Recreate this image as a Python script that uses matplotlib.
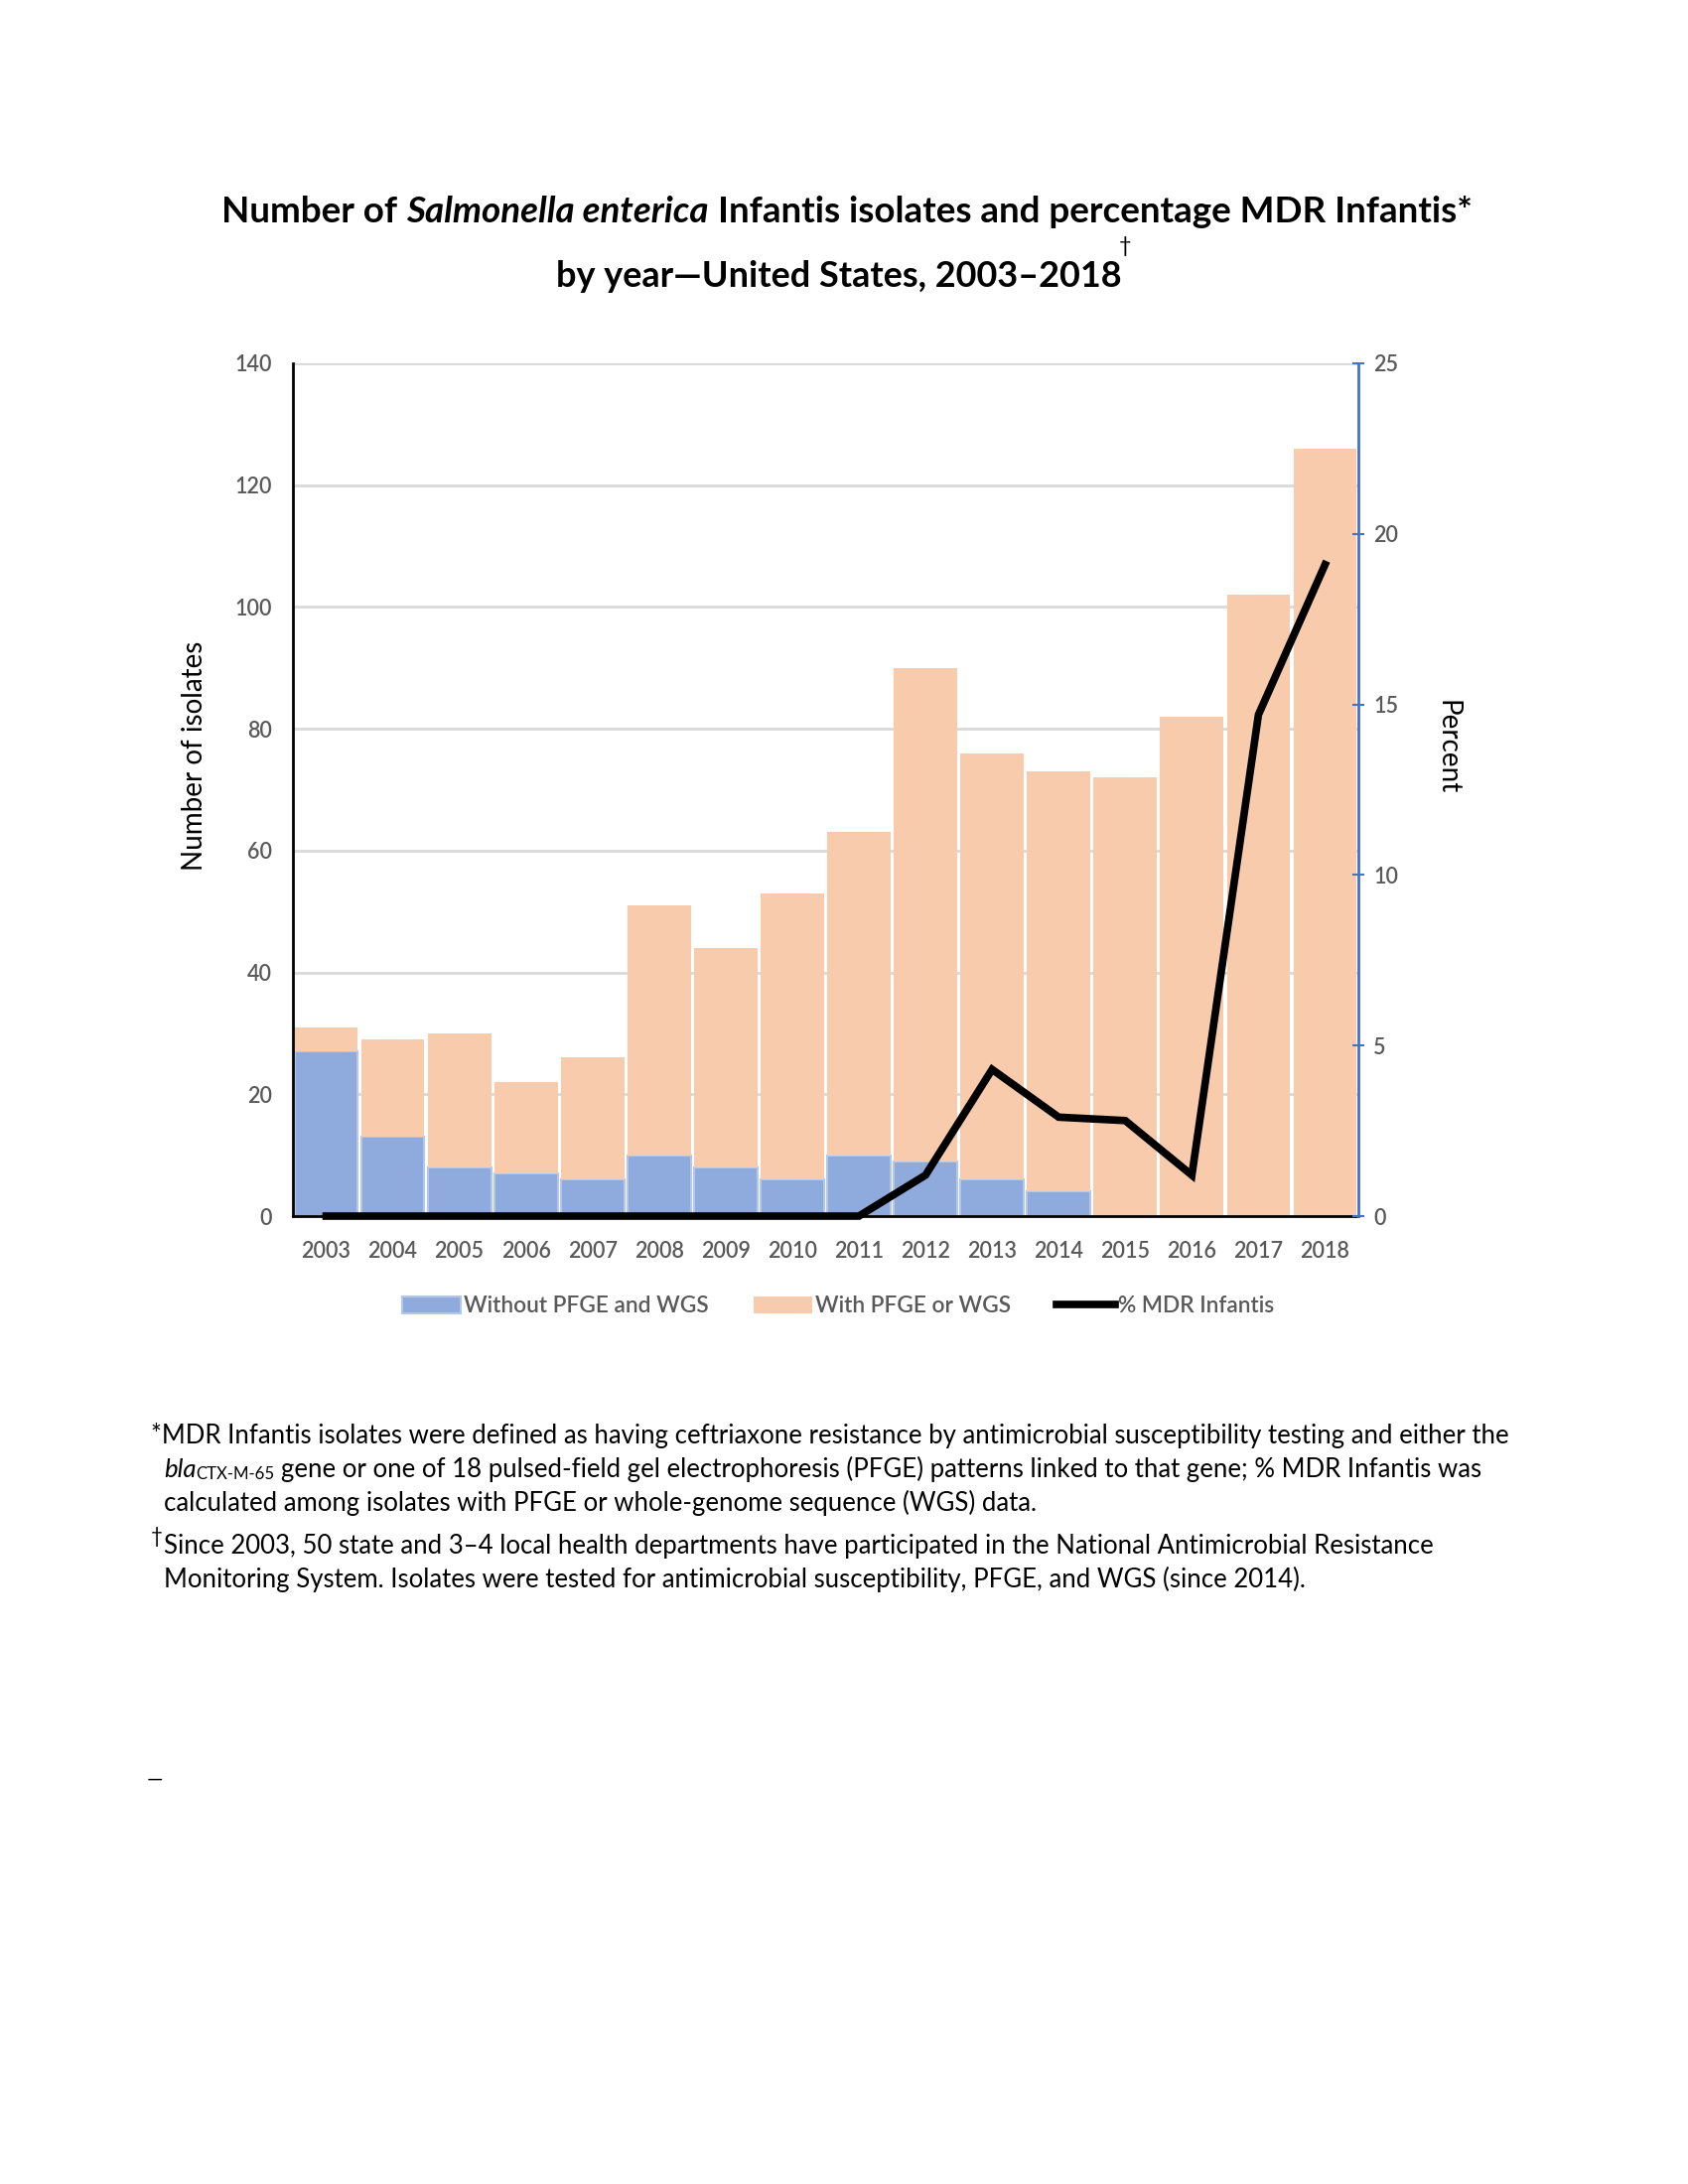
import matplotlib
matplotlib.use("Agg")
import matplotlib.pyplot as plt
from matplotlib.transforms import IdentityTransform
from matplotlib.patches import Patch
from matplotlib.lines import Line2D
import numpy as np

# ---------------- data ----------------
years = ["2003", "2004", "2005", "2006", "2007", "2008", "2009", "2010",
         "2011", "2012", "2013", "2014", "2015", "2016", "2017", "2018"]
without_pfge_wgs = [27, 13, 8, 7, 6, 10, 8, 6, 10, 9, 6, 4, 0, 0, 0, 0]
with_pfge_or_wgs = [4, 16, 22, 15, 20, 41, 36, 47, 53, 81, 70, 69, 72, 82, 102, 126]
pct_mdr = [0, 0, 0, 0, 0, 0, 0, 0, 0, 1.2, 4.3, 2.9, 2.8, 1.2, 14.7, 19.1]
left_ticks = [0, 20, 40, 60, 80, 100, 120, 140]
right_ticks = [0, 5, 10, 15, 20, 25]
legend_labels = ["Without PFGE and WGS", "With PFGE or WGS", "% MDR Infantis"]

FONT = ["Lato", "DejaVu Sans"]
plt.rcParams["font.family"] = FONT

W, H = 1700, 2200
fig = plt.figure(figsize=(W / 100, H / 100), dpi=100)
fig.patch.set_facecolor("white")

BLUE = "#8FAADC"
BLUE_EDGE = "#B4C7E7"
ORANGE = "#F8CBAD"
GRAY_TXT = "#595959"

# axes position (pixels)
AL, AR, AT, AB = 295, 1368, 366, 1225
ax = fig.add_axes([AL / W, 1 - AB / H, (AR - AL) / W, (AB - AT) / H])
ax2 = ax.twinx()

x = np.arange(len(years))
ax.bar(x, without_pfge_wgs, width=0.95, color=BLUE, edgecolor=BLUE_EDGE,
       linewidth=1.5, zorder=2)
ax.bar(x, with_pfge_or_wgs, width=0.95, bottom=without_pfge_wgs, color=ORANGE,
       edgecolor="none", zorder=2)
ax.set_xlim(-0.5, len(years) - 0.5)
ax.set_ylim(0, 140)
ax.set_yticks(left_ticks)
ax.yaxis.grid(True, color="#D9D9D9", linewidth=2)
ax.set_axisbelow(True)
ax.set_xticks(x)
ax.set_xticklabels(years, fontsize=15.5, color=GRAY_TXT, fontweight="semibold")
ax.tick_params(axis="x", length=0, pad=18)
ax.tick_params(axis="y", length=0, pad=15, labelsize=15.5, labelcolor=GRAY_TXT)
for lab in ax.get_yticklabels():
    lab.set_fontweight("semibold")
for s in ["top", "right"]:
    ax.spines[s].set_visible(False)
ax.spines["left"].set_color("black")
ax.spines["left"].set_linewidth(2)
ax.spines["bottom"].set_color("black")
ax.spines["bottom"].set_linewidth(2)
ax.set_ylabel("Number of isolates", fontsize=20, color="black")
ax.yaxis.set_label_coords(-(86 / (AR - AL)), 0.54)

ax2.plot(x, pct_mdr, color="black", linewidth=5.5, solid_joinstyle="miter",
         clip_on=False, zorder=5)
ax2.set_ylim(0, 25)
ax2.set_yticks(right_ticks)
ax2.tick_params(axis="y", direction="inout", length=8, width=1.5, color="#4472C4",
                pad=7, labelsize=15.5, labelcolor=GRAY_TXT)
for lab in ax2.get_yticklabels():
    lab.set_fontweight("semibold")
for s in ["top", "left", "bottom"]:
    ax2.spines[s].set_visible(False)
ax2.spines["right"].set_color("#4472C4")
ax2.spines["right"].set_linewidth(2)
ax2.set_ylabel("Percent", fontsize=20, color="black", rotation=-90, va="center")
ax2.yaxis.set_label_coords(1 + 90 / (AR - AL), 0.55)

# legend
handles = [Patch(facecolor=BLUE, edgecolor=BLUE_EDGE, linewidth=1.5),
           Patch(facecolor=ORANGE, edgecolor="none"),
           Line2D([0], [0], color="black", linewidth=5.5)]
leg = fig.legend(handles, legend_labels, loc="center", ncol=3,
                 bbox_to_anchor=(844 / W, 1 - 1316 / H), frameon=False,
                 fontsize=16.3, handlelength=2.6, handleheight=0.8,
                 handletextpad=0.15, columnspacing=2.0)
for t in leg.get_texts():
    t.set_color(GRAY_TXT)
    t.set_fontweight("semibold")

# ---------------- rich text helper ----------------
fig.canvas.draw()
renderer = fig.canvas.get_renderer()
tr = IdentityTransform()


def measure(s, **kw):
    t = fig.text(0, 0, s, transform=tr, **kw)
    w = t.get_window_extent(renderer).width
    t.remove()
    return w


def run_width(s, size, **kw):
    core = s.strip(" ")
    nsp = len(s) - len(core)
    sp = measure("a a", fontsize=size, **kw) - measure("aa", fontsize=size, **kw)
    return (measure(core, fontsize=size, **kw) if core else 0) + nsp * sp


def line_width(runs, size):
    total = 0
    for text, kw in runs:
        kw = dict(kw)
        scale = kw.pop("scale", 1.0)
        kw.pop("dy", None)
        total += run_width(text, size * scale, **kw)
    return total


def draw_runs(runs, x0, y_top_px, size, ha="left", color="black"):
    total = line_width(runs, size)
    xs = x0 - total / 2 if ha == "center" else x0
    y = H - y_top_px
    for text, kw in runs:
        kw = dict(kw)
        scale = kw.pop("scale", 1.0)
        dy = kw.pop("dy", 0)
        core = text.strip(" ")
        lead = len(text) - len(text.lstrip(" "))
        sp = (measure("a a", fontsize=size * scale, **kw)
              - measure("aa", fontsize=size * scale, **kw))
        if core:
            fig.text(xs + lead * sp, y + dy * size, core, transform=tr,
                     fontsize=size * scale, va="baseline", ha="left",
                     color=color, **kw)
        xs += run_width(text, size * scale, **kw)
    return xs


# ---------------- title ----------------
B = {"fontweight": "bold"}
BI = {"fontweight": "bold", "fontstyle": "italic"}
title1 = [("Number of ", B), ("Salmonella enterica", BI),
          (" Infantis isolates and percentage MDR Infantis*", B)]
title2 = [("by year\u2014United States, 2003\u20132018", B)]
tsize = 24 * 1262 / line_width(title1, 24)
draw_runs(title1, 853, 224, tsize, ha="center")
end2 = draw_runs(title2, 845, 289, tsize * 0.98, ha="center")
fig.text(end2 - 3, H - 254, "\u2020", transform=tr,
         fontsize=tsize * 0.6, ha="left", va="baseline", color="black")

# ---------------- footnotes ----------------
R = {}
I = {"fontstyle": "italic"}
fn1 = [("*MDR Infantis isolates were defined as having ceftriaxone resistance by "
        "antimicrobial susceptibility testing and either the", R)]
fsize = 16 * 1370 / line_width(fn1, 16)
draw_runs(fn1, 152, 1454, fsize)
fn2 = [("bla", I), ("CTX-M-65", {"scale": 0.65, "dy": -0.12}),
       (" gene or one of 18 pulsed-field gel electrophoresis (PFGE) patterns linked "
        "to that gene; % MDR Infantis was", R)]
draw_runs(fn2, 165, 1488, fsize)
fn3 = [("calculated among isolates with PFGE or whole-genome sequence (WGS) data.", R)]
draw_runs(fn3, 165, 1522, fsize)
fig.text(152, H - 1554, "\u2020", transform=tr, fontsize=fsize * 0.8,
         ha="left", va="baseline")
fn4 = [("Since 2003, 50 state and 3\u20134 local health departments have participated "
        "in the National Antimicrobial Resistance", R)]
draw_runs(fn4, 165, 1565, fsize)
fn5 = [("Monitoring System. Isolates were tested for antimicrobial susceptibility, "
        "PFGE, and WGS (since 2014).", R)]
draw_runs(fn5, 165, 1599, fsize)

fig.text(148, H - 1799, "\u2014", transform=tr, fontsize=fsize * 0.8, ha="left",
         va="baseline")

fig.savefig("out.png", dpi=100, facecolor="white")
